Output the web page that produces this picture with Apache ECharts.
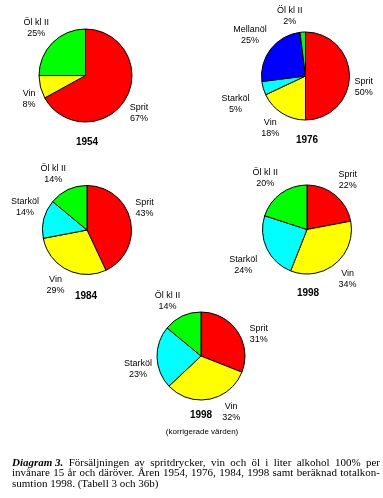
<!DOCTYPE html>
<html><head><meta charset="utf-8">
<script src="https://cdn.jsdelivr.net/npm/echarts@6/dist/echarts.min.js"></script>
<style>html,body{margin:0;padding:0;background:#fff}#c{width:383px;height:498px}</style>
</head><body><div id="c"></div>
<script>
// ---- data ----
const names1954 = ['Sprit', 'Vin', 'Öl kl II'];
const values1954 = [67, 8, 25];
const names1976 = ['Sprit', 'Vin', 'Starköl', 'Mellanöl', 'Öl kl II'];
const values1976 = [50, 18, 5, 25, 2];
const names1984 = ['Sprit', 'Vin', 'Starköl', 'Öl kl II'];
const values1984 = [43, 29, 14, 14];
const names1998 = ['Sprit', 'Vin', 'Starköl', 'Öl kl II'];
const values1998 = [22, 34, 24, 20];
const names1998k = ['Sprit', 'Vin', 'Starköl', 'Öl kl II'];
const values1998k = [31, 32, 23, 14];
const pieTitles = ['1954', '1976', '1984', '1998', '1998'];
const subTitle = '(korrigerade värden)';
const captionLines = [
  {bold: 'Diagram 3.', text: 'Försäljningen av spritdrycker, vin och öl i liter alkohol 100% per', justify: true},
  {bold: '', text: 'invånare 15 år och däröver. Åren 1954, 1976, 1984, 1998 samt beräknad totalkon-', justify: true},
  {bold: '', text: 'sumtion 1998. (Tabell 3 och 36b)', justify: false}
];

const colorMap = {
  'Sprit': '#ff0000', 'Vin': '#ffff00', 'Starköl': '#00ffff',
  'Mellanöl': '#0000ff', 'Öl kl II': '#00ff00'
};

// ---- layout (positions / sizes) ----
const pies = [
  {names: names1954, values: values1954, c: [85.5, 75.5], r: 46.5, title: [87, 142], nudge: {}},
  {names: names1976, values: values1976, c: [305.5, 76], r: 44, title: [307, 140], nudge: {2: [-9, 3]}},
  {names: names1984, values: values1984, c: [87, 230], r: 44.5, title: [86, 296], nudge: {}},
  {names: names1998, values: values1998, c: [307, 229.5], r: 44.5, title: [308, 293], nudge: {2: [-5, 3]}},
  {names: names1998k, values: values1998k, c: [201, 356], r: 44, title: [201, 415], nudge: {0: [8, 17], 1: [12, -3]}}
];

const GAP = 5;
function labelAnchor(si, di, rect) {
  const p = pies[si];
  const total = p.values.reduce((a, b) => a + b, 0);
  let cum = 0;
  for (let i = 0; i < di; i++) cum += p.values[i];
  const mid = (cum + p.values[di] / 2) / total * Math.PI * 2;
  const ux = Math.sin(mid), uy = -Math.cos(mid);
  const d = p.r + GAP;
  const n = p.nudge[di] || [0, 0];
  const hw = rect.width / 2;
  return {
    x: p.c[0] + ux * d + n[0] + (ux >= 0 ? hw : -hw),
    y: p.c[1] + uy * d + n[1],
    align: 'center',
    verticalAlign: uy >= -0.001 ? 'top' : 'bottom'
  };
}

const font = '"Liberation Sans", Arial, sans-serif';
const series = pies.map((p, si) => ({
  type: 'pie',
  center: p.c,
  radius: [0, p.r],
  startAngle: 90,
  clockwise: true,
  avoidLabelOverlap: false,
  animation: false,
  silent: true,
  data: p.names.map((n, i) => ({name: n, value: p.values[i], itemStyle: {color: colorMap[n]}})),
  itemStyle: {borderColor: '#000', borderWidth: 1},
  label: {
    show: true, position: 'outside', formatter: '{b}\n{c}%',
    fontFamily: font, fontSize: 9, lineHeight: 11, color: '#000'
  },
  labelLine: {show: false, length: 4, length2: 0},
  labelLayout: function (params) {
    return labelAnchor(si, params.dataIndex, params.labelRect);
  }
}));

const graphics = pies.map((p, i) => ({
  type: 'text', x: p.title[0], y: p.title[1],
  style: {text: pieTitles[i], fontFamily: font, fontSize: 10, fontWeight: 'bold', fill: '#000', align: 'center', verticalAlign: 'middle'}
}));
graphics.push({
  type: 'text', x: 202, y: 432,
  style: {text: subTitle, fontFamily: font, fontSize: 8, fill: '#000', align: 'center', verticalAlign: 'middle'}
});

// caption, justified like the source
const serifName = '"Liberation Serif", "Times New Roman", serif';
const CAP_SIZE = 11, CAP_LEFT = 12, CAP_RIGHT = 380, CAP_TOP = 463, CAP_LH = 10.5;
const mctx = document.createElement('canvas').getContext('2d');
function measure(t, bold) {
  mctx.font = (bold ? 'italic bold ' : '') + CAP_SIZE + 'px ' + serifName;
  return mctx.measureText(t).width;
}
captionLines.forEach((ln, li) => {
  const tokens = [];
  if (ln.bold) tokens.push({t: ln.bold, b: true});
  ln.text.split(' ').forEach(w => tokens.push({t: w, b: false}));
  const widths = tokens.map(tk => measure(tk.t, tk.b));
  const sum = widths.reduce((a, b) => a + b, 0);
  const space = measure(' ', false);
  const gap = ln.justify && tokens.length > 1 ? (CAP_RIGHT - CAP_LEFT - sum) / (tokens.length - 1) : space;
  let x = CAP_LEFT;
  tokens.forEach((tk, i) => {
    graphics.push({
      type: 'text', x: x, y: CAP_TOP + li * CAP_LH,
      style: {
        text: tk.t, fontFamily: serifName, fontSize: CAP_SIZE,
        fontWeight: tk.b ? 'bold' : 'normal', fontStyle: tk.b ? 'italic' : 'normal',
        fill: '#000', align: 'left', verticalAlign: 'middle'
      }
    });
    x += widths[i] + gap;
  });
});

const chart = echarts.init(document.getElementById('c'), null, {renderer: 'canvas'});
chart.setOption({backgroundColor: '#fff', animation: false, series: series, graphic: graphics});
</script>
</body></html>
